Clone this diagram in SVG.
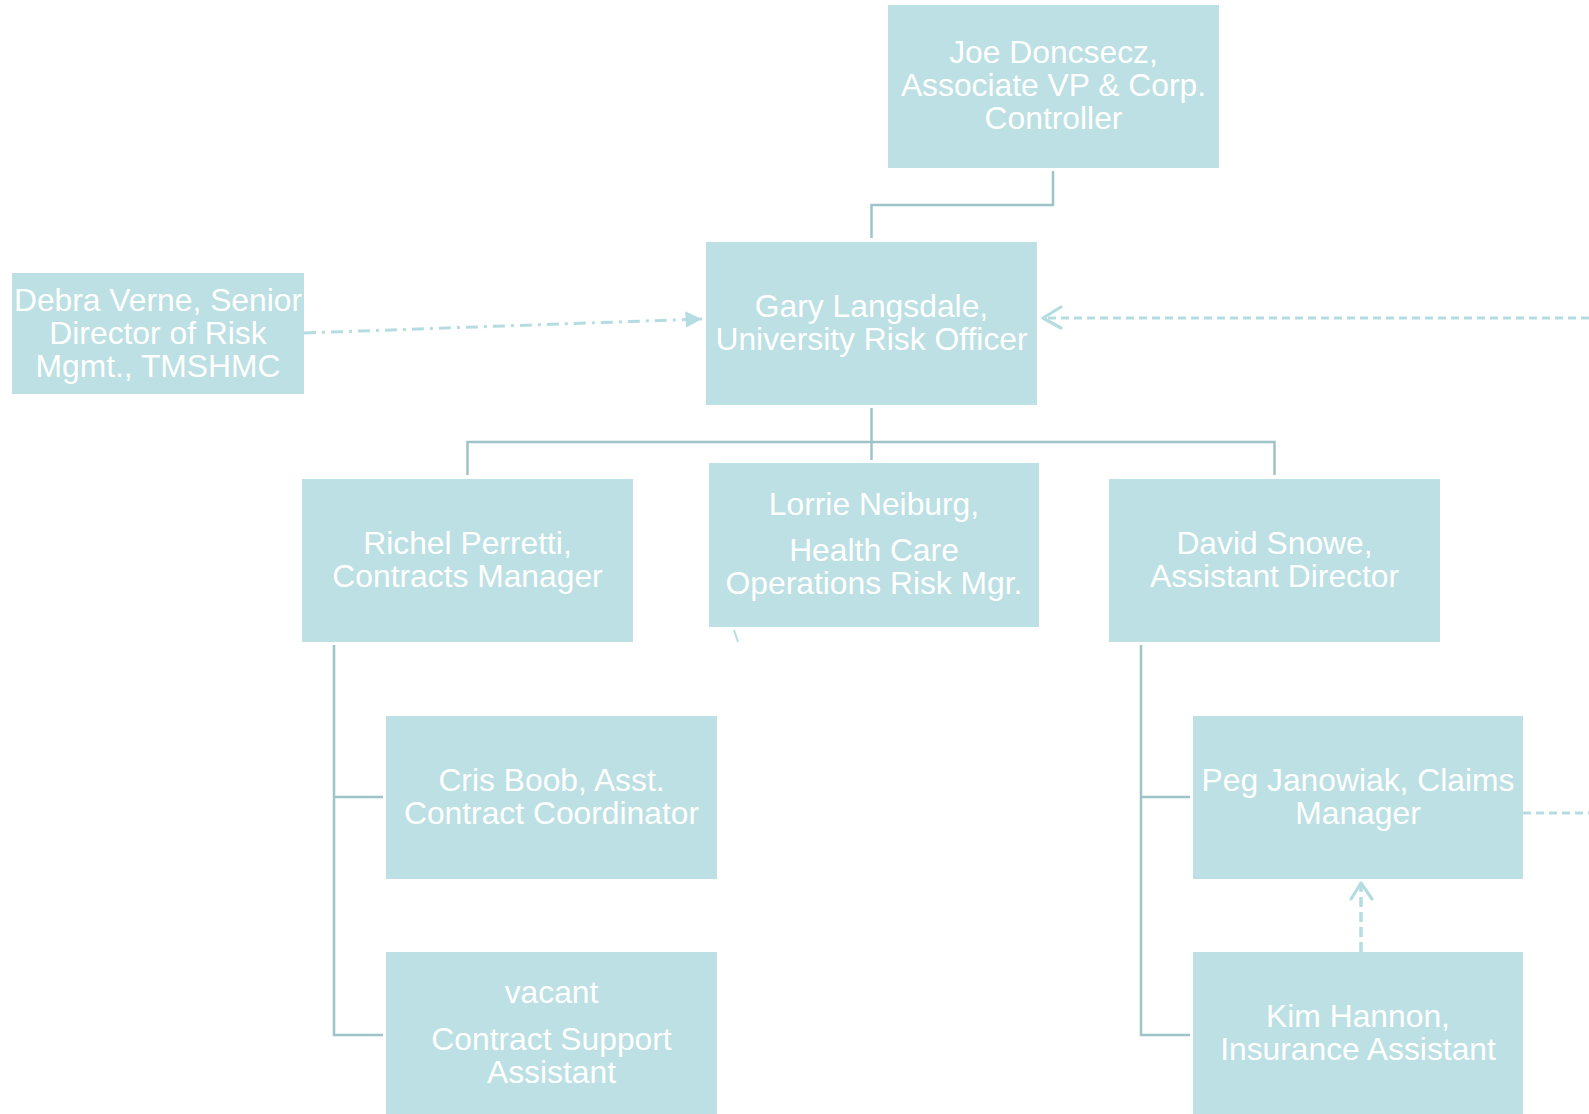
<svg xmlns="http://www.w3.org/2000/svg" width="1589" height="1114" viewBox="0 0 1589 1114">
<defs>
<style>
.box{fill:#bce0e3}
.t{font-family:"Liberation Sans",Arial,sans-serif;font-size:31.8px;fill:#ffffff;text-anchor:middle}
.solid{fill:none;stroke:#9fc4c8;stroke-width:2.5}
.dash{fill:none;stroke:#b5dde1;stroke-width:3;stroke-dasharray:8 5}
.dashdot{fill:none;stroke:#b5dde1;stroke-width:3;stroke-dasharray:12 6 3 6}
.open{fill:none;stroke:#b5dde1;stroke-width:3.2;stroke-linecap:round;stroke-linejoin:round}
</style>
<marker id="tri" viewBox="0 0 10 10" refX="10" refY="5" markerWidth="5.5" markerHeight="5.5" orient="auto" markerUnits="strokeWidth">
<path d="M0,0 L10,5 L0,10 z" fill="#b5dde1"/>
</marker>
</defs>
<rect width="1589" height="1114" fill="#ffffff"/>
<g id="connectors">
<path class="solid" d="M1053,171 V205 H871.5 V238"/>
<path class="solid" d="M871.5,408 V460"/>
<path class="solid" d="M467.5,475 V442 H1274.5 V475"/>
<path class="solid" d="M334,645 V1035 H383 M334,797 H383"/>
<path class="solid" d="M1141,645 V1035 H1190 M1141,797 H1190"/>
<path class="dashdot" d="M304,333 L702,319" marker-end="url(#tri)"/>
<path class="dash" d="M1589,318 H1045"/>
<path class="open" d="M1061,307 L1043,318 L1061,328"/>
<path class="dash" d="M1523,813 H1589"/>
<path class="dash" d="M1361,952 V886" style="stroke-width:3.5;stroke-dasharray:10 5"/>
<path class="open" d="M1351,899 L1361,883 L1372,899"/>
<path d="M734,630 L738,642" fill="none" stroke="#b5dde1" stroke-width="2"/>
</g>
<g id="joe">
<rect class="box" x="888" y="5" width="331" height="163"/>
<text class="t" x="1053.5" y="63">Joe Doncsecz,</text>
<text class="t" x="1053.5" y="96">Associate VP &amp; Corp.</text>
<text class="t" x="1053.5" y="129">Controller</text>
</g>
<g id="gary">
<rect class="box" x="706" y="242" width="331" height="163"/>
<text class="t" x="871.5" y="317">Gary Langsdale,</text>
<text class="t" x="871.5" y="350">University Risk Officer</text>
</g>
<g id="debra">
<rect class="box" x="12" y="273" width="292" height="121"/>
<text class="t" x="158" y="311">Debra Verne, Senior</text>
<text class="t" x="158" y="344">Director of Risk</text>
<text class="t" x="158" y="377">Mgmt., TMSHMC</text>
</g>
<g id="richel">
<rect class="box" x="302" y="479" width="331" height="163"/>
<text class="t" x="467.5" y="554">Richel Perretti,</text>
<text class="t" x="467.5" y="587">Contracts Manager</text>
</g>
<g id="lorrie">
<rect class="box" x="709" y="463" width="330" height="164"/>
<text class="t" x="874" y="515">Lorrie Neiburg,</text>
<text class="t" x="874" y="561">Health Care</text>
<text class="t" x="874" y="594">Operations Risk Mgr.</text>
</g>
<g id="david">
<rect class="box" x="1109" y="479" width="331" height="163"/>
<text class="t" x="1274.5" y="554">David Snowe,</text>
<text class="t" x="1274.5" y="587">Assistant Director</text>
</g>
<g id="cris">
<rect class="box" x="386" y="716" width="331" height="163"/>
<text class="t" x="551.5" y="791">Cris Boob, Asst.</text>
<text class="t" x="551.5" y="824">Contract Coordinator</text>
</g>
<g id="vacant">
<rect class="box" x="386" y="952" width="331" height="163"/>
<text class="t" x="551.5" y="1003">vacant</text>
<text class="t" x="551.5" y="1050">Contract Support</text>
<text class="t" x="551.5" y="1083">Assistant</text>
</g>
<g id="peg">
<rect class="box" x="1193" y="716" width="330" height="163"/>
<text class="t" x="1358" y="791">Peg Janowiak, Claims</text>
<text class="t" x="1358" y="824">Manager</text>
</g>
<g id="kim">
<rect class="box" x="1193" y="952" width="330" height="163"/>
<text class="t" x="1358" y="1027">Kim Hannon,</text>
<text class="t" x="1358" y="1060">Insurance Assistant</text>
</g>
</svg>
